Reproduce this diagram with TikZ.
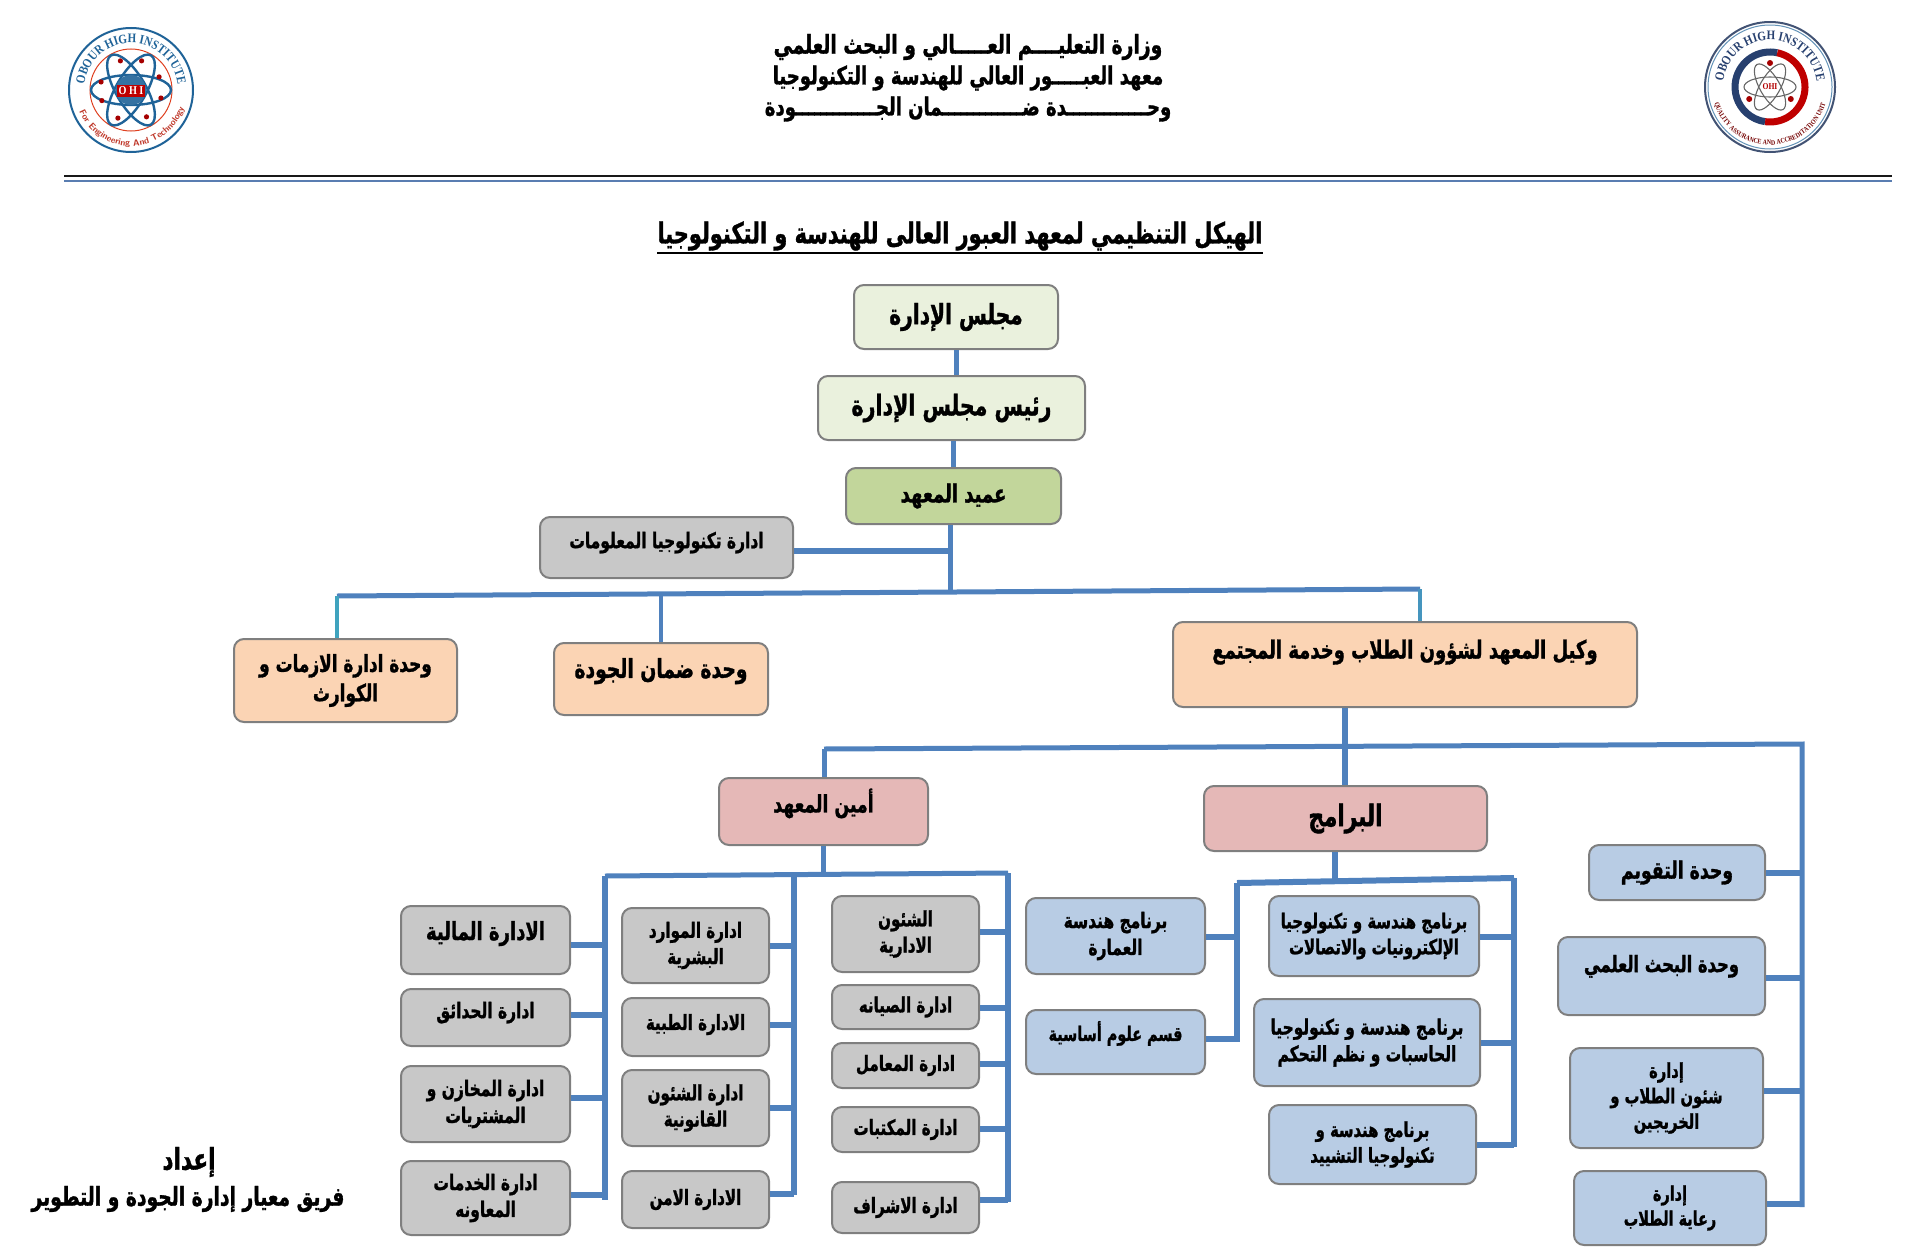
\documentclass[tikz,border=0pt]{standalone}
\usepackage{fontspec}
\setmainfont{Liberation Serif}
\newfontfamily\arabicfont[Script=Arabic,FakeStretch=0.72,BoldFeatures={FakeBold=1.2}]{DejaVu Sans}
\newfontfamily\logofont[FakeStretch=0.85]{Liberation Serif}
\TeXXeTstate=1
\usetikzlibrary{decorations.text}
\newcommand{\artxt}[2][0pt]{\raisebox{#1}{\arabicfont\bfseries\beginR #2\endR}}
\newcommand{\fsz}[1]{\fontsize{#1}{#1}\selectfont\setlength{\baselineskip}{1.25\baselineskip}}
\definecolor{linkblue}{HTML}{4F81BD}
\definecolor{edgegrey}{HTML}{7F7F7F}
\definecolor{teal}{HTML}{3FA3BE}
\definecolor{logoblue}{HTML}{1F6398}
\definecolor{logored}{HTML}{C0392B}
\definecolor{logonavy}{HTML}{27406F}
\definecolor{boxgrey}{HTML}{C8C8C8}
\definecolor{boxblue}{HTML}{B8CCE4}
\definecolor{boxpeach}{HTML}{FBD4B4}
\definecolor{boxpink}{HTML}{E5B8B7}
\definecolor{boxgreen}{HTML}{C2D69B}
\definecolor{boxpale}{HTML}{EAF1DD}
\tikzset{
  box/.style={draw=edgegrey,line width=2pt,rounded corners=10pt,align=center,inner sep=1pt},
  sized/.style 2 args={minimum width=#1pt,minimum height=#2pt},
  greybox/.style={box,fill=boxgrey},
  bluebox/.style={box,fill=boxblue},
  peachbox/.style={box,fill=boxpeach},
  pinkbox/.style={box,fill=boxpink},
  palebox/.style={box,fill=boxpale},
  greenbox/.style={box,fill=boxgreen},
  link/.style={linkblue,line width=5pt},
  tie/.style={linkblue,line width=6pt},
  fs/.style={font=\fsz{#1}},
  plain/.style={inner sep=0pt,align=center},
  orbit/.style={logoblue,line width=2.4pt},
  thinorbit/.style={black!60,line width=1.1pt},
}
\begin{document}
\begin{tikzpicture}[x=1pt,y=-1pt]
  \useasboundingbox (0,0) rectangle (1920,1250);

  \begin{scope}[shift={(131,90)},y=1pt]
    \draw[logoblue,line width=2pt,fill=white] (0,0) circle (62pt);
    \draw[red!50!brown,line width=1pt] (0,0) circle (41pt);
    \fill[white] (0,0) circle (39pt);
    \foreach \a in {0,60,120} \draw[orbit,rotate=\a] (0,0) ellipse (40pt and 15pt);
    \foreach \a in {25,70,110,165,200,245,300,345} \fill[red!65!black] (\a:31pt) circle (2.6pt);
    \fill[logoblue!90] (0,0) circle (15pt);
    \node[fill=red!75!black,text=white,inner sep=1.5pt,font=\logofont\bfseries\fsz{12}] (ohileft) at (0,-1) {O H I};
    \path[decorate,decoration={text along path,text align=center,
      text={|\logofont\bfseries\fsz{13}\color{logoblue}|OBOUR HIGH INSTITUTE}}] (195:47pt) arc (195:-15:47pt);
    \path[decorate,decoration={text along path,text align=center,
      text={|\sffamily\bfseries\fsz{9}\color{logored}|For Engineering And Technology}}] (192:56pt) arc (192:352:56pt);
  \end{scope}

  \begin{scope}[shift={(1770,87)},y=1pt]
    \draw[logonavy!70!gray,line width=2pt] (0,0) circle (65pt);
    \draw[logoblue!70,line width=1pt] (0,0) circle (62pt);
    \draw[logonavy,line width=7pt] (78:35pt) arc (78:262:35pt);
    \draw[red!75!black,line width=7pt] (78:35pt) arc (78:-98:35pt);
    \foreach \a in {0,60,120} \draw[thinorbit,rotate=\a] (0,0) ellipse (26pt and 10pt);
    \foreach \a in {90,210,330} \fill[red!65!black] (\a:24pt) circle (3pt);
    \node[fill=white,inner sep=1pt,text=red!70!black,font=\logofont\bfseries\fsz{9}] (ohiright) at (0,0) {OHI};
    \path[decorate,decoration={text along path,text align=center,
      text={|\logofont\bfseries\fsz{13}\color{logonavy}|OBOUR HIGH INSTITUTE}}] (190:47pt) arc (190:-10:47pt);
    \path[decorate,decoration={text along path,text align=center,
      text={|\logofont\bfseries\fsz{7}\color{red!45!black}|QUALITY ASSURANCE AND ACCREDITATION UNIT}}] (182:58pt) arc (182:358:58pt);
  \end{scope}

  \node[plain,fs=26] (headone) at (968,47) {\artxt{وزارة التعليــــم العـــــالي و البحث العلمي}};
  \node[plain,fs=25] (headtwo) at (968,78) {\artxt{معهد العبـــــور العالي للهندسة و التكنولوجيا}};
  \node[plain,fs=25] (headthree) at (968,109) {\artxt{وحـــــــــــــدة ضـــــــــــــمان الجـــــــــــــودة}};
  \coordinate (ruleL) at (64,176);
  \coordinate (ruleR) at (1892,176);
  \draw[black!90,line width=2.4pt] (ruleL) -- (ruleR);
  \draw[cyan!50!blue!60!gray,line width=1.6pt] ([yshift=-5pt]ruleL) -- ([yshift=-5pt]ruleR);

  \node[plain,fs=29] (title) at (960,236) {\artxt{الهيكل التنظيمي لمعهد العبور العالى للهندسة و التكنولوجيا}};
  \draw[line width=2.5pt] ([yshift=-2pt]title.south west) -- ([yshift=-2pt]title.south east);

  \node[palebox,sized={204}{64},fs=28] (mglis) at (956,317) {\artxt{مجلس الإدارة}};
  \node[palebox,sized={267}{64},fs=28.5] (raeis) at (951.5,408) {\artxt{رئيس مجلس الإدارة}};
  \node[greenbox,sized={215}{56},fs=25] (amid) at (953.5,496) {\artxt{عميد المعهد}};
  \node[greybox,sized={253}{61},fs=21.5] (tech) at (666.5,547.5) {\artxt[15pt]{ادارة تكنولوجيا المعلومات}};
  \node[peachbox,sized={223}{83},fs=23.5] (azmat) at (345.5,680.5) {\artxt{وحدة ادارة الازمات و}\\\artxt{الكوارث}};
  \node[peachbox,sized={214}{72},fs=26] (quality) at (661,679) {\artxt[22pt]{وحدة ضمان الجودة}};
  \node[peachbox,sized={464}{85},fs=25] (wakeel) at (1405,664.5) {\artxt[31pt]{وكيل المعهد لشؤون الطلاب وخدمة المجتمع}};
  \node[pinkbox,sized={209}{67},fs=24] (amin) at (823.5,811.5) {\artxt[22pt]{أمين المعهد}};
  \node[pinkbox,sized={283}{65},fs=30] (baramij) at (1345.5,818.5) {\artxt{البرامج}};

  \node[greybox,sized={169}{68},fs=25] (maliya) at (485.5,940) {\artxt[19pt]{الادارة المالية}};
  \node[greybox,sized={169}{57},fs=21.5] (hadaiq) at (485.5,1017.5) {\artxt[15pt]{ادارة الحدائق}};
  \node[greybox,sized={169}{76},fs=21.5] (makhazin) at (485.5,1104) {\artxt{ادارة المخازن و}\\\artxt{المشتريات}};
  \node[greybox,sized={169}{74},fs=21.5] (khadamat) at (485.5,1198) {\artxt{ادارة الخدمات}\\\artxt{المعاونه}};

  \node[greybox,sized={147}{75},fs=21] (mawarid) at (695.5,945.5) {\artxt{ادارة الموارد}\\\artxt{البشرية}};
  \node[greybox,sized={147}{58},fs=21] (tibbiya) at (695.5,1027) {\artxt[10pt]{الادارة الطبية}};
  \node[greybox,sized={147}{76},fs=21] (qanuniya) at (695.5,1108) {\artxt{ادارة الشئون}\\\artxt{القانونية}};
  \node[greybox,sized={147}{57},fs=21] (amn) at (695.5,1199.5) {\artxt{الادارة الامن}};

  \node[greybox,sized={147}{76},fs=21] (shuoon) at (905.5,934) {\artxt{الشئون}\\\artxt{الادارية}};
  \node[greybox,sized={147}{44},fs=21] (siyana) at (905.5,1007) {\artxt{ادارة الصيانه}};
  \node[greybox,sized={147}{45},fs=21] (maamal) at (905.5,1065.5) {\artxt{ادارة المعامل}};
  \node[greybox,sized={147}{45},fs=21] (maktabat) at (905.5,1129.5) {\artxt{ادارة المكتبات}};
  \node[greybox,sized={147}{51},fs=21] (ishraf) at (905.5,1207.5) {\artxt{ادارة الاشراف}};

  \node[bluebox,sized={179}{76},fs=21.5] (arch) at (1115.5,936) {\artxt{برنامج هندسة}\\\artxt{العمارة}};
  \node[bluebox,sized={179}{64},fs=20] (ulum) at (1115.5,1042) {\artxt[22pt]{قسم علوم أساسية}};
  \node[bluebox,sized={210}{80},fs=20.7] (elec) at (1374,936) {\artxt{برنامج هندسة و تكنولوجيا}\\\artxt{الإلكترونيات والاتصالات}};
  \node[bluebox,sized={226}{87},fs=21.4] (comp) at (1367,1042.5) {\artxt{برنامج هندسة و تكنولوجيا}\\\artxt{الحاسبات و نظم التحكم}};
  \node[bluebox,sized={207}{79},fs=20.6] (constr) at (1372.5,1144.5) {\artxt{برنامج هندسة و}\\\artxt{تكنولوجيا التشييد}};

  \node[bluebox,sized={176}{55},fs=24] (taqweem) at (1677,872.5) {\artxt{وحدة التقويم}};
  \node[bluebox,sized={207}{78},fs=22.7] (bahth) at (1661.5,976) {\artxt[25pt]{وحدة البحث العلمي}};
  \node[bluebox,sized={193}{100},fs=20.4] (talab) at (1666.5,1098) {\artxt{إدارة}\\\artxt{شئون الطلاب و}\\\artxt{الخريجين}};
  \node[bluebox,sized={192}{74},fs=20] (reaya) at (1670,1208) {\artxt{إدارة}\\\artxt{رعاية الطلاب}};

  \node[plain,fs=30] (idad) at (189,1162) {\artxt{إعداد}};
  \node[plain,fs=26] (team) at (188,1199) {\artxt{فريق معيار إدارة الجودة و التطوير}};

  \draw[link] (mglis.south) -- (mglis.south |- raeis.north);
  \draw[link] (amid.north |- raeis.south) -- (amid.north);
  \coordinate (busT) at (950,592);
  \coordinate (busL) at (337,596);
  \coordinate (busM) at (661,594);
  \coordinate (busR) at (1420,589);
  \draw[link] (amid.south -| busT) -- (busT);
  \draw[tie] ([yshift=-3pt]tech.east) -- ([yshift=-3pt]tech.east -| busT);
  \draw[link] (busL) -- (busR);
  \draw[teal,line width=4pt] (busL) -- (busL |- azmat.north);
  \draw[link,line width=4pt] (busM) -- (busM |- quality.north);
  \draw[teal!60!linkblue,line width=4pt] (busR) -- (busR |- wakeel.north);

  \coordinate (busW) at (1345,747);
  \coordinate (outL) at (824,749);
  \coordinate (outR) at (1802,744);
  \coordinate (outEnd) at (1802,1207);
  \draw[link,line width=6pt] (wakeel.south -| busW) -- (busW) -- (busW |- baramij.north);
  \draw[link] (outL) -- (outR) -- (outEnd);
  \draw[link] (outL) -- (outL |- amin.north);

  \coordinate (secL) at (605,876);
  \coordinate (secM) at (794,875);
  \coordinate (secR) at (1008,873);
  \draw[link] (amin.south) -- (amin.south |- secR);
  \draw[link] (secL) -- (secR);
  \draw[link,line width=6pt] (secL) -- (605,1200);
  \draw[link,line width=6pt] (secM) -- (794,1195);
  \draw[link,line width=6pt] (secR) -- (1008,1202);

  \coordinate (progL) at (1237,883);
  \coordinate (progM) at (1335,881);
  \coordinate (progR) at (1514,878);
  \draw[link,line width=6pt] (baramij.south -| progM) -- (progM);
  \draw[link,line width=6pt] (progL) -- (progR);
  \draw[link,line width=6pt] (progL) -- (1237,1042);
  \draw[link,line width=6pt] (progR) -- (1514,1147);

  \foreach \n/\s in {maliya/-5,hadaiq/3,makhazin/6,khadamat/3}
    \draw[tie] ([yshift=\s pt]\n.east) -- ([yshift=\s pt]\n.east -| secL);
  \foreach \n/\s in {mawarid/0,tibbiya/2,qanuniya/0,amn/6}
    \draw[tie] ([yshift=\s pt]\n.east) -- ([yshift=\s pt]\n.east -| secM);
  \foreach \n/\s in {shuoon/2,siyana/-1,maamal/2,maktabat/1,ishraf/8}
    \draw[tie] ([yshift=\s pt]\n.east) -- ([yshift=\s pt]\n.east -| secR);
  \foreach \n/\s in {arch/-1,ulum/3}
    \draw[tie] ([yshift=\s pt]\n.east) -- ([yshift=\s pt]\n.east -| progL);
  \foreach \n/\s in {elec/-1,comp/0,constr/0}
    \draw[tie] ([yshift=\s pt]\n.east) -- ([yshift=\s pt]\n.east -| progR);
  \foreach \n/\s in {taqweem/0,bahth/-2,talab/7,reaya/4}
    \draw[tie] ([yshift=\s pt]\n.east) -- ([yshift=\s pt]\n.east -| outR);
\end{tikzpicture}
\end{document}
